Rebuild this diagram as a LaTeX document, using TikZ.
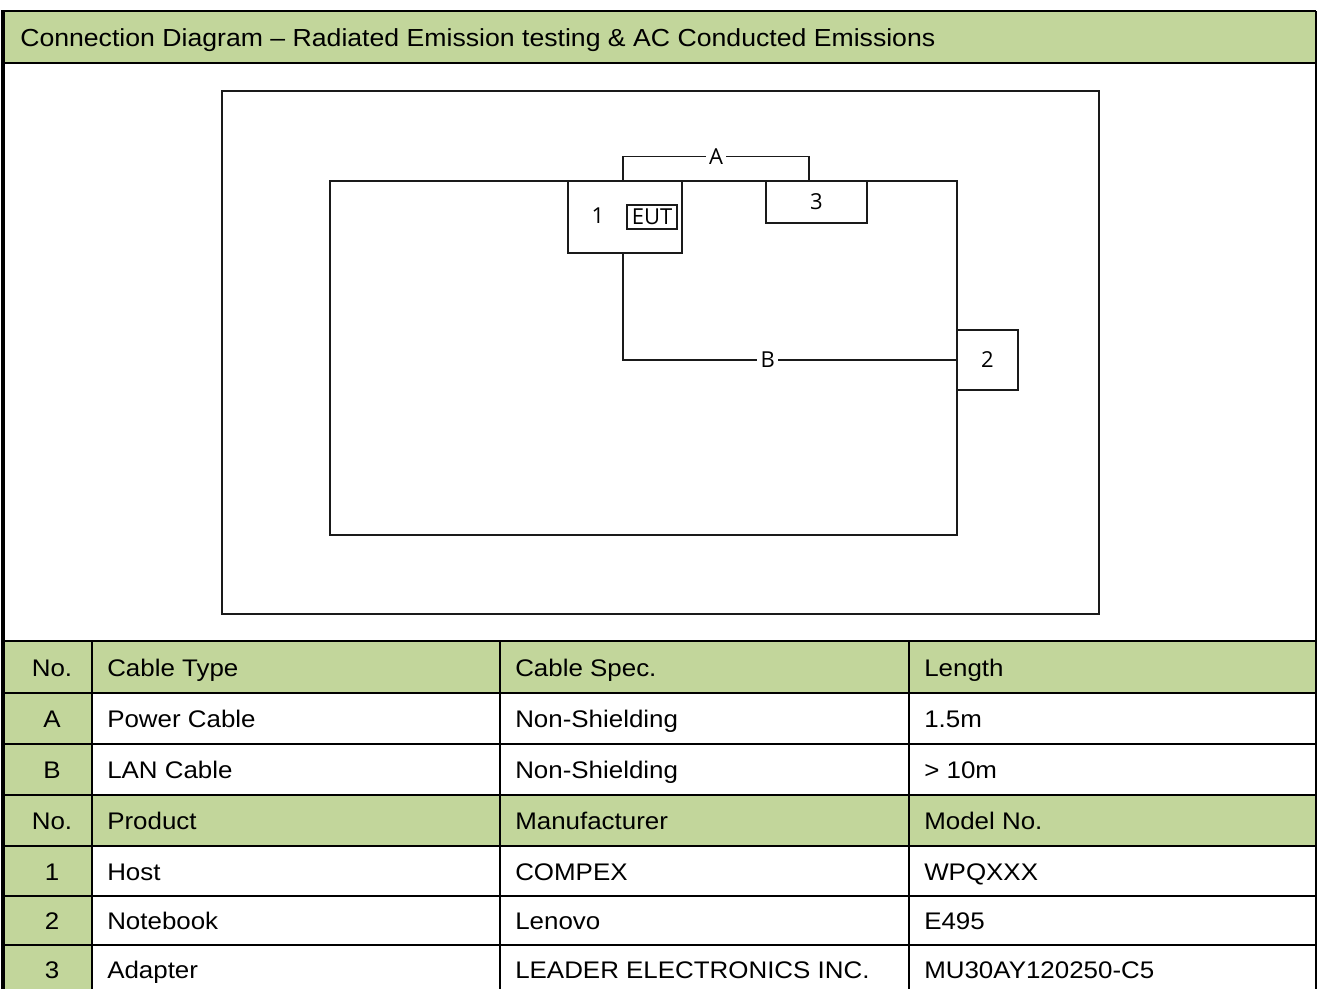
\documentclass[tikz,border=0pt]{standalone}
\usepackage{fontspec}
\setmainfont{Liberation Sans}[FakeStretch=1.08]
\newfontfamily\diagfont{Open Sans}
\usetikzlibrary{positioning,calc}
\definecolor{HeadGreen}{HTML}{C2D69B}
\definecolor{Ink}{HTML}{1A1A1A}
\tikzset{
  frameline/.style={draw=black, line width=1.6pt},
  gridline/.style={draw=black, line width=1.4pt},
  headcell/.style={fill=HeadGreen},
  celltext/.style={anchor=west, inner sep=0pt, text height=12.9pt, text depth=0pt,
    font=\fontsize{18}{22}\selectfont},
  numtext/.style={celltext, anchor=center},
  unitbox/.style={draw=Ink, line width=1.1pt, fill=white, inner sep=0pt,
    font=\diagfont\fontsize{16.5}{18}\selectfont},
  unitlabel/.style={inner sep=0pt, font=\diagfont\fontsize{16.5}{18}\selectfont},
  cable/.style={draw=Ink, line width=1.1pt},
  cablelabel/.style={fill=white, inner sep=2.5pt, font=\diagfont\fontsize{16.5}{18}\selectfont}
}
\begin{document}
\begin{tikzpicture}[x=0.75pt,y=-0.75pt]
    \useasboundingbox (0,0) rectangle (1317,989);
    % title band
    \fill[headcell] (4,11) rectangle (1316,63);
    \node[celltext,font=\fontsize{18.5}{22}\selectfont] (title) at (20,38)
      {Connection Diagram -- Radiated Emission testing \& AC Conducted Emissions};
    % test set-up
    \draw[cable] (222,91) rectangle (1099,614);
    \node[unitbox,minimum width=627*0.75pt,minimum height=354*0.75pt] (desk) at (643.5,358) {};
    \node[unitbox,minimum width=114*0.75pt,minimum height=72*0.75pt] (host) at (625,217) {};
    \node[unitlabel] (hostno) at (598,216) {1};
    \node[draw=Ink,line width=1.1pt,inner sep=0pt,minimum width=50*0.75pt,minimum height=24*0.75pt,
      font=\diagfont\fontsize{16.5}{18}\selectfont] (eut) at (652,217) {EUT};
    \node[unitbox,minimum width=101*0.75pt,minimum height=42*0.75pt] (adapter) at (816.5,202) {3};
    \node[unitbox,minimum width=61*0.75pt,minimum height=60*0.75pt] (notebook) at (987.5,360) {2};
    \coordinate (hostA) at ($(host.north)+(-2,0)$);
    \coordinate (adapterA) at ($(adapter.north)+(-7.5,0)$);
    \coordinate (hostB) at ($(host.south)+(-2,0)$);
    \draw[cable] (hostA) -- ++(0,-24) -| node[cablelabel,pos=0.25] {A} (adapterA);
    \draw[cable] (hostB) |- node[cablelabel,pos=0.717] {B} (notebook.west);
    % table fills
    \fill[headcell] (4,641) rectangle (1316,693);
    \fill[headcell] (4,795) rectangle (1316,846);
    \fill[headcell] (4,693) rectangle (92,795);
    \fill[headcell] (4,846) rectangle (92,989);
    % table grid
    \foreach \y in {63,641,693,744,795,846,896,945}
      \draw[gridline] (4,\y) -- (1316,\y);
    \foreach \x in {92,500,909}
      \draw[gridline] (\x,641) -- (\x,989);
    \draw[frameline] (1,11) -- (1316,11);
    \draw[line width=2.6pt] (3,10) -- (3,989);
    \draw[frameline] (1316,11) -- (1316,989);
    % cable rows
    \node[numtext] (n0) at (52,668) {No.};
    \node[celltext] (c0) at (107,668) {Cable Type};
    \node[celltext] (s0) at (515,668) {Cable Spec.};
    \node[celltext] (l0) at (924,668) {Length};
    \node[numtext] (nA) at (52,719) {A};
    \node[celltext] (cA) at (107,719) {Power Cable};
    \node[celltext] (sA) at (515,719) {Non-Shielding};
    \node[celltext] (lA) at (924,719) {1.5m};
    \node[numtext] (nB) at (52,770) {B};
    \node[celltext] (cB) at (107,770) {LAN Cable};
    \node[celltext] (sB) at (515,770) {Non-Shielding};
    \node[celltext] (lB) at (924,770) {> 10m};
    % product rows
    \node[numtext] (p0) at (52,821) {No.};
    \node[celltext] (d0) at (107,821) {Product};
    \node[celltext] (m0) at (515,821) {Manufacturer};
    \node[celltext] (o0) at (924,821) {Model No.};
    \node[numtext] (p1) at (52,872) {1};
    \node[celltext] (d1) at (107,872) {Host};
    \node[celltext] (m1) at (515,872) {COMPEX};
    \node[celltext] (o1) at (924,872) {WPQXXX};
    \node[numtext] (p2) at (52,921) {2};
    \node[celltext] (d2) at (107,921) {Notebook};
    \node[celltext] (m2) at (515,921) {Lenovo};
    \node[celltext] (o2) at (924,921) {E495};
    \node[numtext] (p3) at (52,970) {3};
    \node[celltext] (d3) at (107,970) {Adapter};
    \node[celltext] (m3) at (515,970) {LEADER ELECTRONICS INC.};
    \node[celltext] (o3) at (924,970) {MU30AY120250-C5};
\end{tikzpicture}
\end{document}
